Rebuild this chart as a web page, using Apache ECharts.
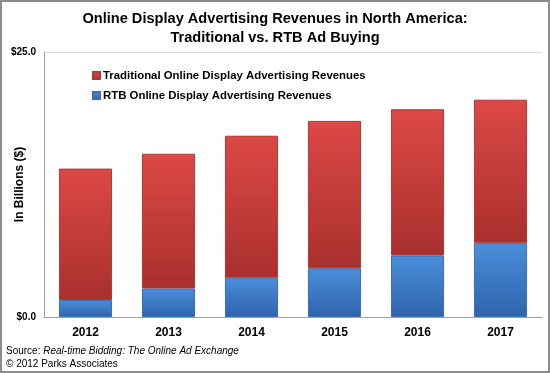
<!DOCTYPE html>
<html><head><meta charset="utf-8">
<script src="https://cdn.jsdelivr.net/npm/echarts@6/dist/echarts.min.js"></script>
<style>html,body{margin:0;padding:0;background:#fff}#c{width:550px;height:373px}</style>
</head><body><div id="c"></div>
<script>
const categories = ['2012','2013','2014','2015','2016','2017'];
const rtbValues = [1.6, 2.7, 3.7, 4.6, 5.8, 7.0];
const traditionalValues = [12.4, 12.7, 13.4, 13.9, 13.8, 13.5];
const yTicks = [0, 25];

const chart = echarts.init(document.getElementById('c'), null, {renderer:'canvas'});
const F = 'Liberation Sans, Arial, sans-serif';
function grad(top, bottom){
  return new echarts.graphic.LinearGradient(0,0,0,1,[{offset:0,color:top},{offset:1,color:bottom}]);
}
chart.setOption({
  animation:false,
  backgroundColor:'#fff',
  title:{
    text:'Online Display Advertising Revenues in North America:\nTraditional vs. RTB Ad Buying',
    left:'center', top:4,
    textStyle:{fontFamily:F, fontSize:14.6, fontWeight:'bold', color:'#000', lineHeight:19}
  },
  legend:{
    orient:'vertical', left:87, top:65, itemGap:9,
    itemWidth:7, itemHeight:7, icon:'rect',
    data:['Traditional Online Display Advertising Revenues','RTB Online Display Advertising Revenues'],
    textStyle:{fontFamily:F, fontSize:11.4, fontWeight:'bold', color:'#000', padding:[0,0,0,-2]}
  },
  grid:{left:44, right:8, top:52, bottom:56, containLabel:false, outerBoundsMode:'none'},
  xAxis:{
    type:'category', data:categories,
    axisLine:{lineStyle:{color:'#a0a0a0'}},
    axisTick:{show:false},
    axisLabel:{fontFamily:F, fontSize:12, fontWeight:'bold', color:'#000', margin:10}
  },
  yAxis:{
    type:'value', min:yTicks[0], max:yTicks[1], interval:25,
    name:'In Billions ($)', nameLocation:'middle', nameGap:18, nameRotate:90, nameMoveOverlap:false,
    nameTextStyle:{fontFamily:F, fontSize:12, fontWeight:'bold', color:'#000'},
    axisLine:{show:true, lineStyle:{color:'#a0a0a0'}},
    axisTick:{show:false},
    splitLine:{lineStyle:{color:'#d9d9d9'}},
    axisLabel:{fontFamily:F, fontSize:10, fontWeight:'bold', color:'#000', margin:8,
      formatter:v=>'$'+v.toFixed(1)}
  },
  series:[
    {name:'RTB Online Display Advertising Revenues', type:'bar', stack:'t', data:rtbValues,
     barCategoryGap:'36%',
     itemStyle:{color:grad('#4b8edb','#2f64ac'), borderColor:'#3a6fb0', borderWidth:1}},
    {name:'Traditional Online Display Advertising Revenues', type:'bar', stack:'t', data:traditionalValues,
     barCategoryGap:'36%',
     itemStyle:{color:grad('#dc4846','#a9302d'), borderColor:'#b03a37', borderWidth:1}}
  ],
  color:['#3f7fcb','#cf3f3c'],
  graphic:[
    {type:'rect', shape:{x:1, y:1, width:548, height:371}, style:{fill:'none', stroke:'#8c8c8c', lineWidth:2}, silent:true},
    {type:'text', left:6, top:346, style:{
      text:'{n|Source: }{i|Real-time Bidding: The Online Ad Exchange}\n{n|© 2012 Parks Associates}',
      rich:{n:{fontFamily:F,fontSize:10,fill:'#000',lineHeight:13}, i:{fontFamily:F,fontSize:10,fontStyle:'italic',fill:'#000',lineHeight:13}}
    }}
  ]
});
</script></body></html>
